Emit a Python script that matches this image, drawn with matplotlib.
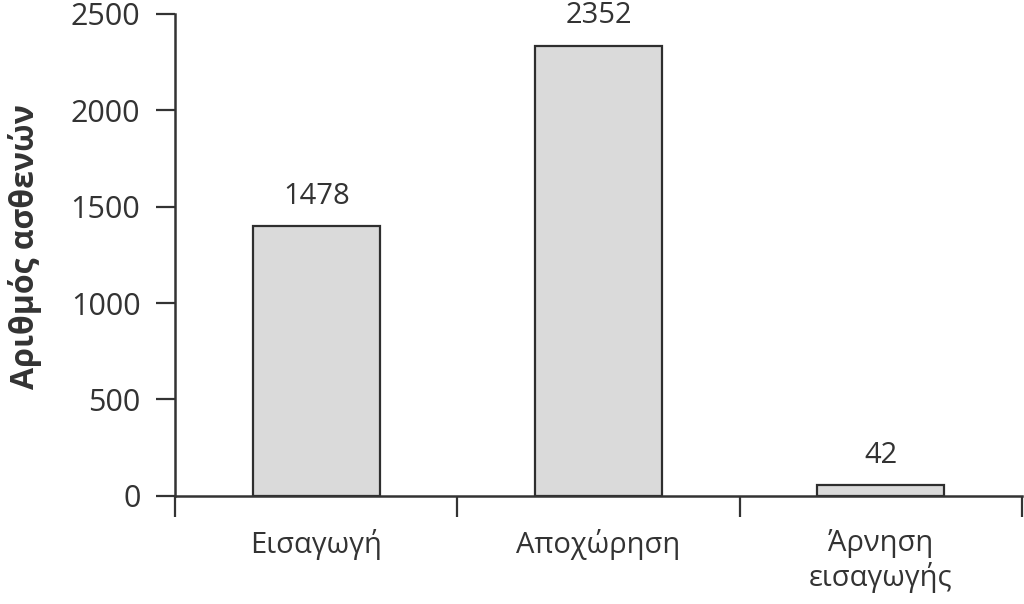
import matplotlib
matplotlib.use('Agg')
import matplotlib.pyplot as plt

plt.rcParams['font.family'] = ['Open Sans', 'DejaVu Sans']

categories = ['Εισαγωγή', 'Αποχώρηση', 'Άρνηση\nεισαγωγής']
heights    = [1400, 2335, 57]          # bar heights as drawn
labels     = ['1478', '2352', '42']    # values printed above the bars
yticks     = [0, 500, 1000, 1500, 2000, 2500]

ink = '#333333'

fig = plt.figure(figsize=(10.24, 6.04), dpi=100)
ax = fig.add_axes([0.171, 0.179, 0.827, 0.798])

x = range(len(categories))
bars = ax.bar(x, heights, width=0.45, color='#dadada', edgecolor='#2e2e2e', linewidth=1.6)

for b, lab in zip(bars, labels):
    ax.annotate(lab, (b.get_x() + b.get_width() / 2, b.get_height()),
                xytext=(0, 11), textcoords='offset points',
                ha='center', va='bottom', fontsize=21, color=ink)

ax.set_xlim(-0.5, len(categories) - 0.5)
ax.set_ylim(0, 2500)
ax.set_yticks(yticks)
ax.set_yticklabels([str(t) for t in yticks], fontsize=22, color=ink)

# category names centred, tick marks at the boundaries
ax.set_xticks([i - 0.5 for i in range(len(categories) + 1)])
ax.set_xticklabels([])
ax.set_xticks(list(x), minor=True)
ax.set_xticklabels(categories, minor=True, fontsize=21, color=ink, linespacing=1.15)
ax.tick_params(axis='x', which='minor', length=0, pad=24)
ax.tick_params(axis='x', which='major', length=15, width=1.6, color=ink, direction='out')
ax.tick_params(axis='y', length=14, width=1.6, color=ink, direction='out', pad=11)

for s in ['top', 'right']:
    ax.spines[s].set_visible(False)
for s in ['left', 'bottom']:
    ax.spines[s].set_linewidth(1.8)
    ax.spines[s].set_color(ink)

fig.text(0.0244, 0.591, 'Αριθμός ασθενών', rotation=90, ha='center', va='center',
         fontsize=23, fontweight='bold', color=ink)

fig.savefig('out.png', dpi=100)
